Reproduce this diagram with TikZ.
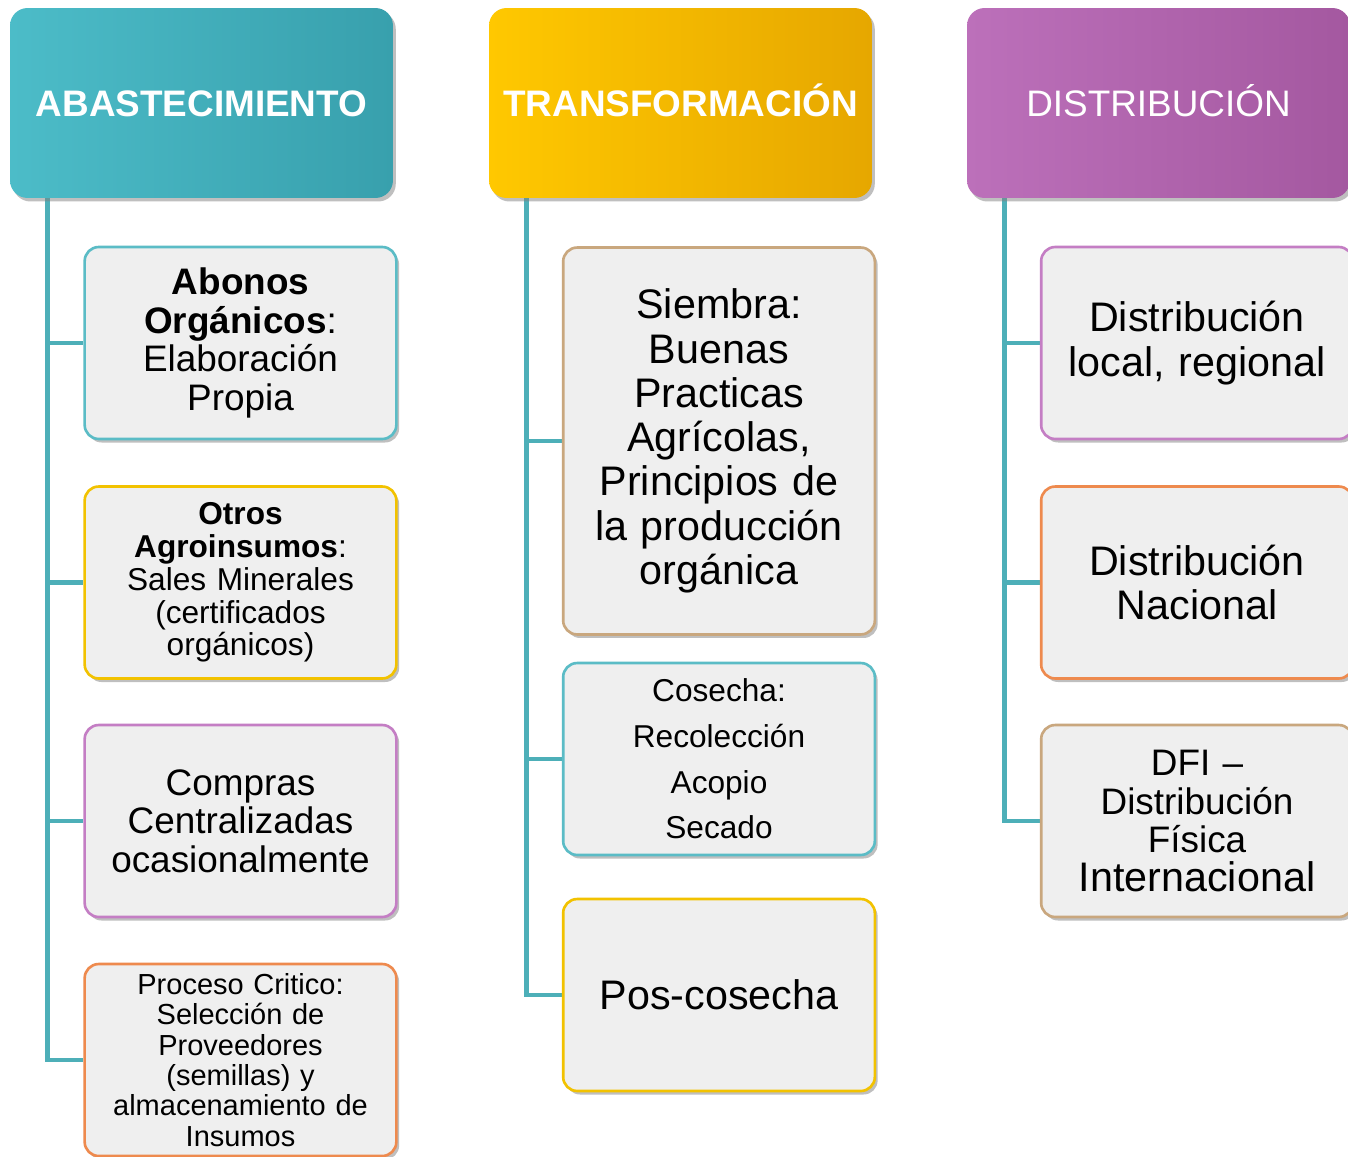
\documentclass[tikz,border=0pt]{standalone}
\usepackage{fontspec}
\setmainfont{Liberation Sans}
\usetikzlibrary{shadows,calc,backgrounds}
\definecolor{teal1}{HTML}{4CBCC8}
\definecolor{teal2}{HTML}{38A0AD}
\definecolor{gold1}{HTML}{FFC800}
\definecolor{gold2}{HTML}{E6A700}
\definecolor{purp1}{HTML}{BC70BA}
\definecolor{purp2}{HTML}{A458A0}
\definecolor{conncol}{HTML}{4DAFB8}
\definecolor{bteal}{HTML}{5BBCC6}
\definecolor{bgold}{HTML}{F2C200}
\definecolor{bviolet}{HTML}{C47EC4}
\definecolor{borange}{HTML}{EE8A4E}
\definecolor{btan}{HTML}{C9A77E}
\definecolor{boxfill}{HTML}{EFEFEF}
\tikzset{
  shd/.style={drop shadow={shadow xshift=1.6pt, shadow yshift=-2pt, opacity=0.5, fill=black!50}},
  hdr/.style={rounded corners=10pt, minimum width=7.66cm, minimum height=3.8cm,
    text height=15pt, text depth=0pt,
    text=white, font=\fontsize{21}{24}\selectfont, shd},
  leafbox/.style={rounded corners=8pt, minimum width=6.12cm, minimum height=3.84cm,
    text width=6cm, align=center, fill=boxfill, line width=1.5pt, draw=#1, shd},
  conn/.style={draw=conncol, line width=2.8pt},
  fa/.style={font=\fontsize{21}{22}\selectfont},
  fb/.style={font=\fontsize{18}{18.7}\selectfont},
  fc/.style={font=\fontsize{16.5}{17.3}\selectfont},
  fd/.style={font=\fontsize{23.5}{25.2}\selectfont},
  fe/.style={font=\fontsize{18}{26}\selectfont},
}
\begin{document}
\begin{tikzpicture}[x=0.02cm, y=-0.02cm]
\useasboundingbox (0,0) rectangle (1348,1156);
% headers
\node[hdr, left color=teal1, right color=teal2, font=\fontsize{21}{24}\selectfont\bfseries] (h1) at (201.5,103) {ABASTECIMIENTO};
\node[hdr, left color=gold1, right color=gold2, font=\fontsize{21}{24}\selectfont\bfseries] (h2) at (680.5,103) {TRANSFORMACIÓN};
\node[hdr, left color=purp1, right color=purp2] (h3) at (1158.5,103) {DISTRIBUCIÓN};
% column 1
\node[leafbox=bteal, fa] (a1) at (240.5,343) {\textbf{Abonos}\\\textbf{Orgánicos}:\\Elaboración\\Propia};
\node[leafbox=bgold, fb] (a2) at (240.5,582.5) {\textbf{Otros}\\\textbf{Agroinsumos}:\\Sales Minerales\\(certificados\\orgánicos)};
\node[leafbox=bviolet, fa] (a3) at (240.5,821) {Compras\\Centralizadas\\ocasionalmente};
\node[leafbox=borange, fc] (a4) at (240.5,1060) {Proceso Critico:\\Selección de\\Proveedores\\(semillas) y\\almacenamiento de\\Insumos};
% column 2
\node[leafbox=btan, fd, minimum height=7.74cm] (b1) at (719,441) {Siembra:\\Buenas\\Practicas\\Agrícolas,\\Principios de\\la producción\\orgánica};
\node[leafbox=bteal, fe] (b2) at (719,759) {Cosecha:\\Recolección\\Acopio\\Secado};
\node[leafbox=bgold, fd] (b3) at (719,995) {Pos-cosecha};
% column 3
\node[leafbox=bviolet, fd] (c1) at (1197,343) {Distribución\\local, regional};
\node[leafbox=borange, fd] (c2) at (1197,582.5) {Distribución\\Nacional};
\node[leafbox=btan, fa] (c3) at (1197,821) {DFI --\\Distribución\\Física\\{\fontsize{23.5}{24}\selectfont Internacional}};
% connectors
\begin{pgfonlayer}{background}
\fill[white] (0,0) rectangle (1348,1156);
\foreach \c in {a1,a2,a3,a4}{\draw[conn] ($(h1.south west)+(0.76cm,0)$) |- (\c.west);}
\foreach \c in {b1,b2,b3}{\draw[conn] ($(h2.south west)+(0.76cm,0)$) |- (\c.west);}
\foreach \c in {c1,c2,c3}{\draw[conn] ($(h3.south west)+(0.76cm,0)$) |- (\c.west);}
\end{pgfonlayer}
\end{tikzpicture}
\end{document}
